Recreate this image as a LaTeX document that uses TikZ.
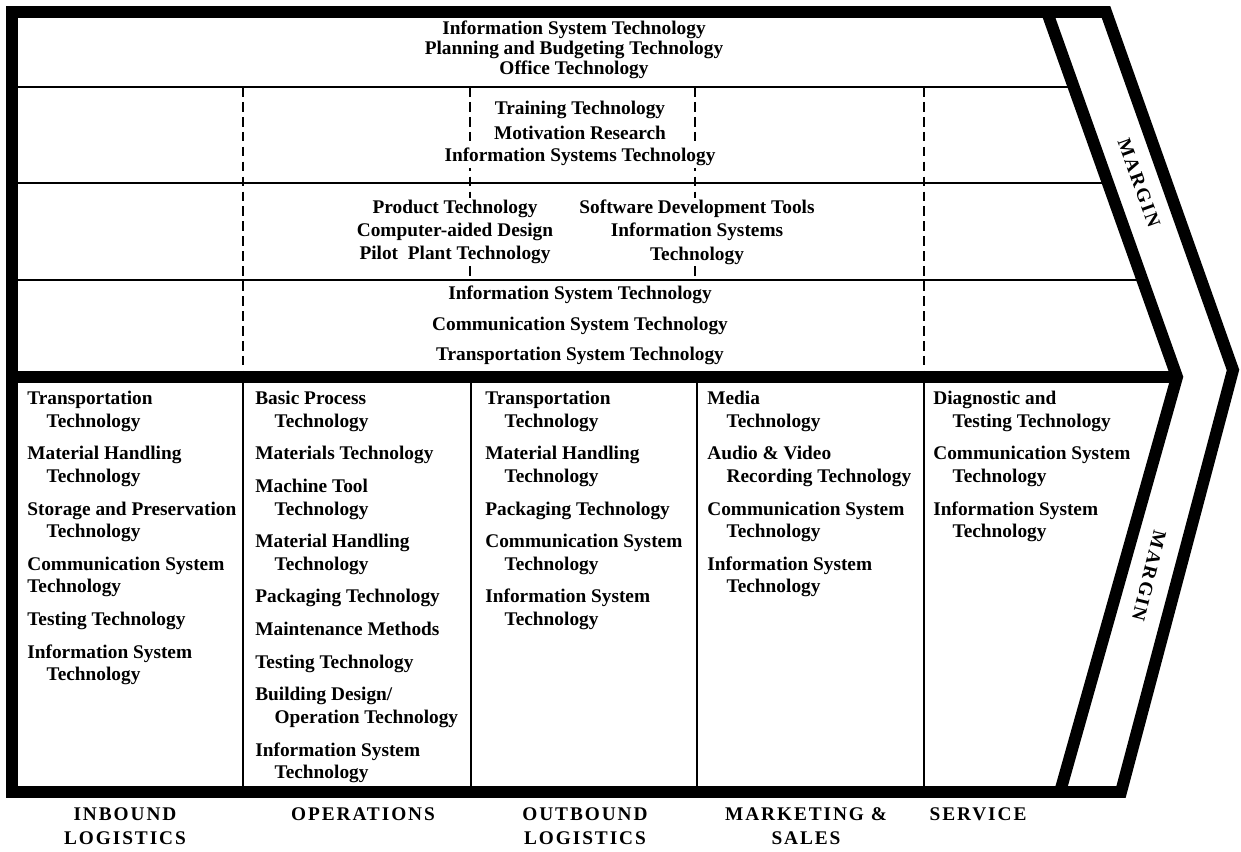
\documentclass[tikz,border=0pt]{standalone}
\usepackage{fontspec}
\setmainfont{Liberation Serif}
\newfontfamily\capsfont[LetterSpace=10]{Liberation Serif}
\usetikzlibrary{positioning}

\newcommand{\ind}{\hspace*{1em}}
\newcommand{\nxt}{\\[5.8pt]}

\begin{document}
\begin{tikzpicture}[x=0.02cm,y=-0.02cm,
    frameline/.style={line width=6.8pt,line join=miter},
    thinline/.style={line width=1.1pt},
    dashline/.style={line width=0.9pt,dash pattern=on 5.5pt off 3pt},
    support/.style={font=\fontsize{11}{13.3}\selectfont\bfseries,fill=white,inner sep=1pt,align=center},
    techlist/.style={font=\fontsize{11}{12.8}\selectfont\bfseries,inner sep=0pt,align=left,anchor=north west},
    activity/.style={font=\fontsize{11}{13.7}\selectfont\capsfont\bfseries,inner sep=0pt,align=center,anchor=north},
    margintext/.style={font=\fontsize{11}{13}\selectfont\capsfont\bfseries,inner sep=0pt}]

    \useasboundingbox (0,0) rectangle (1241,852);

    % Support rows
    \draw [thinline] (12,87) -- (1074,87);
    \draw [thinline] (12,183) -- (1108,183);
    \draw [thinline] (12,280) -- (1142,280);

    % Dashed column lines in support rows
    \draw [dashline] (243,87) -- (243,377);
    \draw [dashline] (924,87) -- (924,377);
    \draw [dashline] (470,87) -- (470,280);
    \draw [dashline] (695,87) -- (695,280);

    % Primary column lines
    \draw [thinline] (243,377) -- (243,792);
    \draw [thinline] (471,377) -- (471,792);
    \draw [thinline] (697,377) -- (697,792);
    \draw [thinline] (924,377) -- (924,792);

    % Frame and margin chevrons
    \draw [frameline] (12,12) -- (1106,12) -- (1233,370) -- (1121,792) -- (12,792) -- cycle;
    \draw [frameline] (1047,12) -- (1177,377) -- (1060,792);
    \draw [frameline] (12,377) -- (1177,377);

    % Firm infrastructure
    \node [support] (infra1) at (574,30) {Information System Technology};
    \node [support] (infra2) at (574,50) {Planning and Budgeting Technology};
    \node [support] (infra3) at (574,70) {Office Technology};

    % Human resource management
    \node [support] (hrm1) at (580,110) {Training Technology};
    \node [support] (hrm2) at (580,133) {Motivation Research};
    \node [support] (hrm3) at (580,157) {Information Systems Technology};

    % Technology development
    \node [support] (techdev1) at (455,232) {Product Technology\\Computer-aided Design\\Pilot\ \ Plant Technology};
    \node [support] (techdev2) at (697,232) {Software Development Tools\\Information Systems\\Technology};

    % Procurement
    \node [support] (proc1) at (580,295) {Information System Technology};
    \node [support] (proc2) at (580,326) {Communication System Technology};
    \node [support] (proc3) at (580,356) {Transportation System Technology};

    % Primary activities
    \node [techlist] (inbound) at (27,391) {Transportation\\\ind Technology\nxt
        Material Handling\\\ind Technology\nxt
        Storage and Preservation\\\ind Technology\nxt
        Communication System\\Technology\nxt
        Testing Technology\nxt
        Information System\\\ind Technology};
    \node [techlist] (operations) at (255,391) {Basic Process\\\ind Technology\nxt
        Materials Technology\nxt
        Machine Tool\\\ind Technology\nxt
        Material Handling\\\ind Technology\nxt
        Packaging Technology\nxt
        Maintenance Methods\nxt
        Testing Technology\nxt
        Building Design/\\\ind Operation Technology\nxt
        Information System\\\ind Technology};
    \node [techlist] (outbound) at (485,391) {Transportation\\\ind Technology\nxt
        Material Handling\\\ind Technology\nxt
        Packaging Technology\nxt
        Communication System\\\ind Technology\nxt
        Information System\\\ind Technology};
    \node [techlist] (marketing) at (707,391) {Media\\\ind Technology\nxt
        Audio \& Video\\\ind Recording Technology\nxt
        Communication System\\\ind Technology\nxt
        Information System\\\ind Technology};
    \node [techlist] (service) at (933,391) {Diagnostic and\\\ind Testing Technology\nxt
        Communication System\\\ind Technology\nxt
        Information System\\\ind Technology};

    % Margin
    \node [margintext,rotate=-70] (marginup) at (1139,183) {MARGIN};
    \node [margintext,rotate=-104] (margindown) at (1149,576) {MARGIN};

    % Activity labels
    \node [activity] (lblinbound) at (125,807) {INBOUND\\LOGISTICS};
    \node [activity] (lbloperations) at (363,807) {OPERATIONS};
    \node [activity] (lbloutbound) at (585,807) {OUTBOUND\\LOGISTICS};
    \node [activity] (lblmarketing) at (806,807) {MARKETING \&\\SALES};
    \node [activity] (lblservice) at (978,807) {SERVICE};
\end{tikzpicture}
\end{document}
